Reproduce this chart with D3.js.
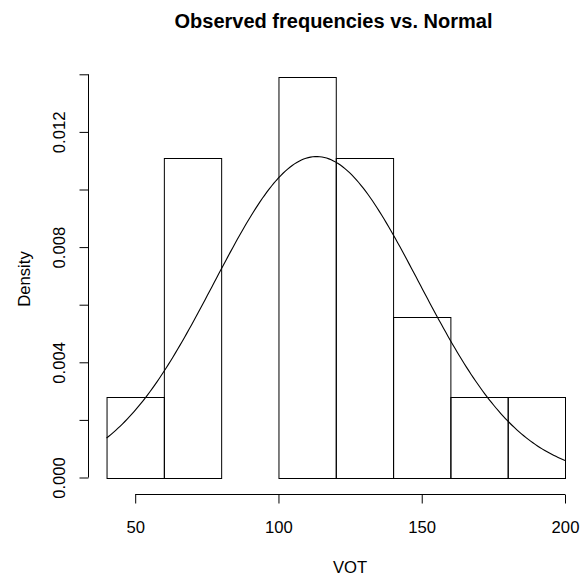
<!DOCTYPE html>
<html>
<head>
<meta charset="utf-8">
<script src="https://cdn.jsdelivr.net/npm/d3@7"></script>
<style>
  html, body { margin: 0; padding: 0; background: #fff; }
  svg { display: block; }
  text { font-family: "Liberation Sans", Arial, Helvetica, sans-serif; fill: #000; }
</style>
</head>
<body>
<svg id="chart" width="580" height="575"></svg>
<script>
// Histogram of VOT (bin edges and densities) with a fitted normal curve
const binEdges = [40, 60, 80, 100, 120, 140, 160, 180, 200];
const binDensity = [0.002778, 0.011111, 0, 0.013889, 0.011111, 0.005556, 0.002778, 0.002778];
const xTicks = [50, 100, 150, 200];
const yTicks = [0, 0.002, 0.004, 0.006, 0.008, 0.010, 0.012, 0.014];
const yTickLabels = ["0.000", "", "0.004", "", "0.008", "", "0.012", ""];
const normalMean = 113.3;
const normalSd = 35.8;

const svg = d3.select("#chart");
const fs = 16.67;

const x = d3.scaleLinear().domain([50, 200]).range([135.2, 565]);
const y = d3.scaleLinear().domain([0, 0.014]).range([477.5, 74.3]);

// bars
const bins = binDensity.map((d, i) => ({ x0: binEdges[i], x1: binEdges[i + 1], d }));
svg.append("g").selectAll("rect").data(bins).join("rect")
  .attr("x", b => x(b.x0) + 0.5)
  .attr("y", b => Math.round(y(b.d)) + 0.5)
  .attr("width", b => x(b.x1) - x(b.x0))
  .attr("height", b => Math.round(y(0)) - Math.round(y(b.d)))
  .attr("fill", "none")
  .attr("stroke", "#000")
  .attr("stroke-width", 1);

// normal density curve over the histogram range
const dnorm = v => Math.exp(-0.5 * ((v - normalMean) / normalSd) ** 2) / (normalSd * Math.sqrt(2 * Math.PI));
const curvePts = d3.range(0, 201).map(i => {
  const v = binEdges[0] + (binEdges[binEdges.length - 1] - binEdges[0]) * i / 200;
  return [v, dnorm(v)];
});
svg.append("path")
  .datum(curvePts)
  .attr("d", d3.line().x(p => x(p[0])).y(p => y(p[1])))
  .attr("fill", "none")
  .attr("stroke", "#000")
  .attr("stroke-width", 1.1);

// x axis
const xAxis = svg.append("g").attr("transform", "translate(0,494.5)")
  .call(d3.axisBottom(x).tickValues(xTicks).tickSize(9).tickFormat(d3.format("d")));
xAxis.select(".domain").attr("d", `M${x(50)},0H${x(200)}`).attr("stroke", "#000");
xAxis.selectAll(".tick line").attr("stroke", "#000");
xAxis.selectAll("text").attr("font-size", fs).attr("dy", null).attr("y", 38).attr("font-family", null);

// y axis
const yAxis = svg.append("g").attr("transform", "translate(88.5,0)")
  .call(d3.axisLeft(y).tickValues(yTicks).tickSize(9).tickFormat((d, i) => yTickLabels[i]));
yAxis.select(".domain").attr("d", `M0,${y(0)}V${y(0.014)}`).attr("stroke", "#000");
yAxis.selectAll(".tick line").attr("stroke", "#000");
yAxis.selectAll(".tick text")
  .attr("font-size", fs)
  .attr("font-family", null)
  .attr("x", null).attr("dy", null)
  .attr("transform", "translate(-23.5,0) rotate(-90)")
  .attr("text-anchor", "middle");

// title and axis labels
svg.append("text").attr("x", 333.5).attr("y", 28)
  .attr("text-anchor", "middle").attr("font-size", 20).attr("font-weight", "bold")
  .text("Observed frequencies vs. Normal");
svg.append("text").attr("x", 350).attr("y", 572.5)
  .attr("text-anchor", "middle").attr("font-size", fs).text("VOT");
svg.append("text").attr("transform", "translate(30,279) rotate(-90)")
  .attr("text-anchor", "middle").attr("font-size", fs).text("Density");
</script>
</body>
</html>
